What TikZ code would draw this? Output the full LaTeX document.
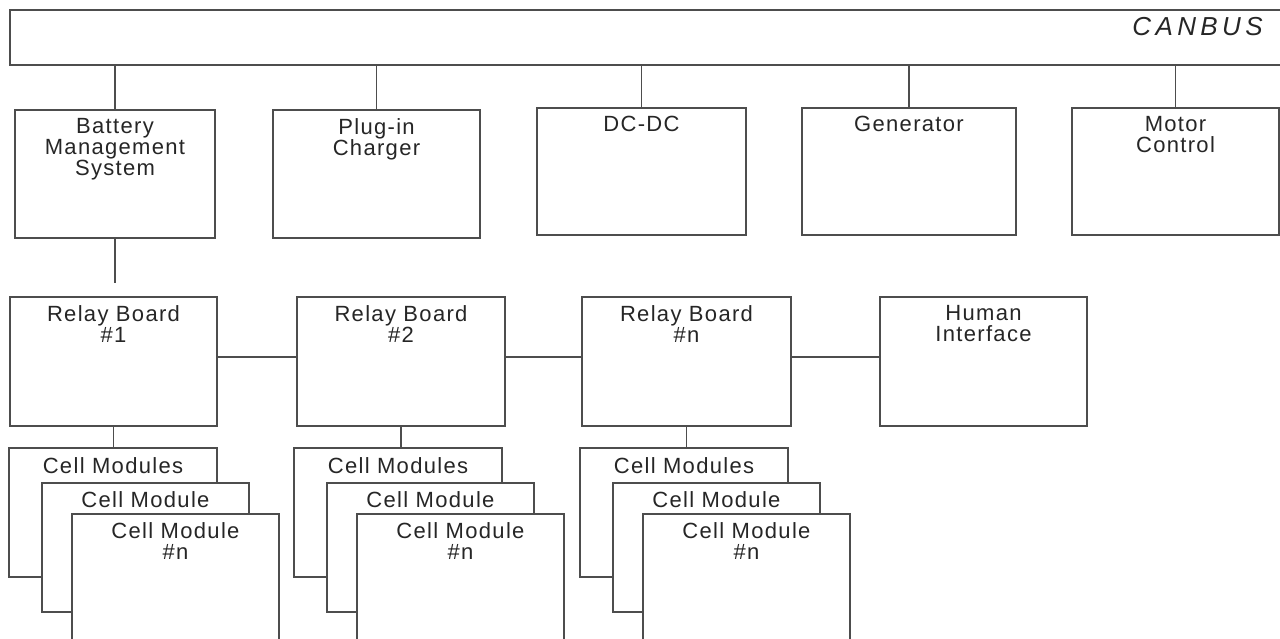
\documentclass[tikz,border=0pt]{standalone}
\usepackage{fontspec}
\setsansfont[LetterSpace=6]{Liberation Sans}
\newfontfamily\busfont[LetterSpace=17]{Liberation Sans}
\usetikzlibrary{positioning}
\definecolor{edge}{HTML}{4D4D4D}
\definecolor{ink}{HTML}{262626}

\begin{document}
\begin{tikzpicture}[
  x=1pt,y=-1pt,font=\sffamily,
  box/.style={draw=edge,fill=white,line width=1.5pt,inner sep=0pt,outer sep=0pt,
              anchor=north west,minimum height=128pt},
  lbl/.style={font=\sffamily\fontsize{22}{21}\selectfont,text=ink,align=center,
              inner sep=0pt},
  buslbl/.style={font=\busfont\itshape\fontsize{26}{28}\selectfont,text=ink,
                 inner sep=0pt},
  wire/.style={draw=edge,line width=1.5pt}
]
\useasboundingbox (0,0) rectangle (1280,639);

% Bus along the top, running off the right edge.
\node[box,minimum width=1290pt,minimum height=55pt] (bus) at (10,10) {};
\node[buslbl,anchor=base east] (busT) at (1263,36) {CANBUS};

% Units on the bus.
\node[box,minimum width=200pt] (bms) at (15,110) {};
\node[lbl,below=8pt of bms.north] (bmsT) {Battery\\Management\\System};
\node[box,minimum width=207pt] (plug) at (273,110) {};
\node[lbl,below=8pt of plug.north] (plugT) {Plug-in\\Charger};
\node[box,minimum width=209pt,minimum height=127pt] (dcdc) at (537,108) {};
\node[lbl,below=8pt of dcdc.north] (dcdcT) {DC-DC};
\node[box,minimum width=214pt,minimum height=127pt] (gen) at (802,108) {};
\node[lbl,below=8pt of gen.north] (genT) {Generator};
\node[box,minimum width=207pt,minimum height=127pt] (motor) at (1072,108) {};
\node[lbl,below=8pt of motor.north] (motorT) {Motor\\Control};

\foreach \n in {bms,plug,dcdc,gen,motor} {
  \draw[wire] (bus.south -| \n.north) -- (\n.north);
}

% Relay boards chained to the human interface.
\node[box,minimum width=207pt,minimum height=129pt] (relay1) at (10,297) {};
\node[lbl,below=8pt of relay1.north] (relay1T) {Relay Board\\\#1};
\node[box,minimum width=208pt,minimum height=129pt] (relay2) at (297,297) {};
\node[lbl,below=8pt of relay2.north] (relay2T) {Relay Board\\\#2};
\node[box,minimum width=209pt,minimum height=129pt] (relayn) at (582,297) {};
\node[lbl,below=8pt of relayn.north] (relaynT) {Relay Board\\\#n};
\node[box,minimum width=207pt,minimum height=129pt] (human) at (880,297) {};
\node[lbl,below=8pt of human.north] (humanT) {Human\\Interface};

\coordinate[above=14pt of relay1.north] (bmsend);
\draw[wire] (bms.south) -- (bms.south |- bmsend);

\draw[wire] ([yshift=4.5pt]relay1.east) -- ([yshift=4.5pt]relay2.west);
\draw[wire] ([yshift=4.5pt]relay2.east) -- ([yshift=4.5pt]relayn.west);
\draw[wire] ([yshift=4.5pt]relayn.east) -- ([yshift=4.5pt]human.west);

% Stacked cell modules under each relay board.
\foreach \s/\x in {1/9,2/294,n/580} {
  \node[box,minimum width=208pt,minimum height=129pt] (cells\s) at (\x,448) {};
  \node[lbl,below=9pt of cells\s.north] (cells\s T) {Cell Modules};
  \node[box,minimum width=207pt,minimum height=129pt] (cellmod\s) at (\x+33,483) {};
  \node[lbl,below=8pt of cellmod\s.north] (cellmod\s T) {Cell Module};
  \node[box,minimum width=207pt] (cellmodn\s) at (\x+63,514) {};
  \node[lbl,below=8pt of cellmodn\s.north] (cellmodn\s T) {Cell Module\\\#n};
  \draw[wire] (relay\s.south) -- (relay\s.south |- cells\s.north);
}

\end{tikzpicture}
\end{document}
